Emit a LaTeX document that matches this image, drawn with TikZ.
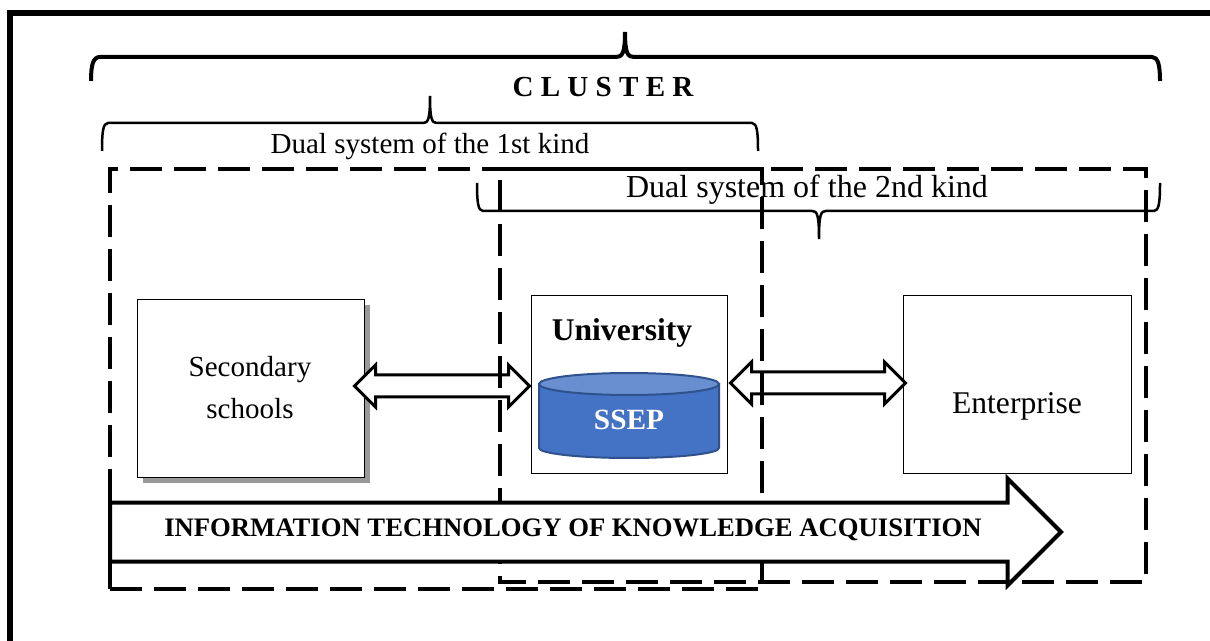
\documentclass[tikz,border=0pt]{standalone}
\usepackage{fontspec}
\setmainfont{Liberation Serif}
\usetikzlibrary{shapes.arrows}
\newcommand{\px}{0.75pt}
\definecolor{sseptop}{HTML}{6A8FD0}
\definecolor{ssepbody}{HTML}{4472C4}
\definecolor{ssepedge}{HTML}{2F528F}
\begin{document}
\begin{tikzpicture}[x=\px,y=-\px,
    box/.style={draw, rectangle, fill=white, anchor=north west, line width=0.9*\px, inner sep=0pt, outer sep=0pt},
    lab/.style={align=center, inner sep=0pt, font=\fontsize{21.8pt}{31.5pt}\selectfont},
    dblarrow/.style={draw, double arrow, fill=white, line width=3*\px, inner xsep=0pt, inner ysep=9.5*\px, outer sep=0pt, minimum height=175*\px, double arrow tip angle=90, double arrow head extend=10*\px},
    dashbox/.style={line width=4*\px, dash pattern=on 24pt off 9pt},
    bracket/.style={line width=2.5*\px}]
    \useasboundingbox (0,0) rectangle (1210,641);

    % Frame
    \draw[line width=6*\px] (10,641) -- (10,13) -- (1210,13);

    % Boxes
    \fill[black!40] (143,305) rectangle (370,483);
    \node[box, minimum width=227*\px, minimum height=178*\px] (schools) at (137,299) {};
    \node[box, minimum width=196*\px, minimum height=178*\px] (university) at (531,295) {};
    \node[box, minimum width=228*\px, minimum height=178*\px] (enterprise) at (903,295) {};

    % SSEP drum
    \draw[line width=2*\px, draw=ssepedge, fill=ssepbody] (539,384) -- (539,448) arc[start angle=180, end angle=0, x radius=90, y radius=10] -- (719,384) -- cycle;
    \draw[line width=2*\px, draw=ssepedge, fill=sseptop] (629,384) ellipse[x radius=90, y radius=11];

    % Links
    \node[dblarrow] (schools-university) at (442,386) {};
    \node[dblarrow] (university-enterprise) at (818,383) {};

    % Dual systems
    \draw[dashbox] (110,589) -- (110,169) -- (762,169) -- (762,589) -- cycle;
    \draw[dashbox, dash phase=24.75pt] (500,169) -- (500,582) -- (1146,582) -- (1146,169) -- cycle;

    % Knowledge arrow
    \node[draw, single arrow, fill=white, anchor=tail, line width=4*\px, inner xsep=0pt, inner ysep=27.5*\px, outer sep=0pt, minimum height=951*\px, single arrow tip angle=90, single arrow head extend=24*\px] (knowledge) at (110,532) {};

    % Brackets
    \draw[line width=4*\px] (91,81) .. controls (91,65) and (93,57) .. (100,57) -- (616,57) .. controls (622,57) and (625,54) .. (625,32) .. controls (625,54) and (628,57) .. (634,57) -- (1152,57) .. controls (1158,57) and (1160,65) .. (1160,81);
    \draw[bracket] (102,151) .. controls (102,132) and (103,123) .. (108,123) -- (423,123) .. controls (428,123) and (430,120) .. (430,96) .. controls (430,120) and (432,123) .. (437,123) -- (752,123) .. controls (757,123) and (758,132) .. (758,151);
    \draw[bracket] (477,183) .. controls (477,202) and (478,211) .. (483,211) -- (812,211) .. controls (817,211) and (819,214) .. (819,239) .. controls (819,214) and (821,211) .. (826,211) -- (1154,211) .. controls (1159,211) and (1160,202) .. (1160,183);

    % Texts
    \node[lab, font=\fontsize{21.8pt}{26pt}\selectfont\bfseries] (clusterlab) at (603,87) {C L U S T E R};
    \node[lab] (duallab-1) at (430,146) {Dual system of the 1st kind};
    \node[lab, font=\fontsize{24pt}{28pt}\selectfont] (duallab-2) at (807,190) {Dual system of the 2nd kind};
    \node[lab] (schoolslab) at (250,388) {Secondary\\schools};
    \node[lab, font=\fontsize{23.7pt}{28pt}\selectfont\bfseries] (universitylab) at (622,333) {University};
    \node[lab, font=\fontsize{22pt}{26pt}\selectfont\bfseries, text=white] (sseplab) at (629,420) {SSEP};
    \node[lab, font=\fontsize{23.7pt}{28pt}\selectfont] (enterpriselab) at (1017,406) {Enterprise};
    \node[lab, font=\fontsize{20pt}{24pt}\selectfont\bfseries] (knowledgelab) at (573,530) {INFORMATION TECHNOLOGY OF KNOWLEDGE ACQUISITION};
\end{tikzpicture}
\end{document}
